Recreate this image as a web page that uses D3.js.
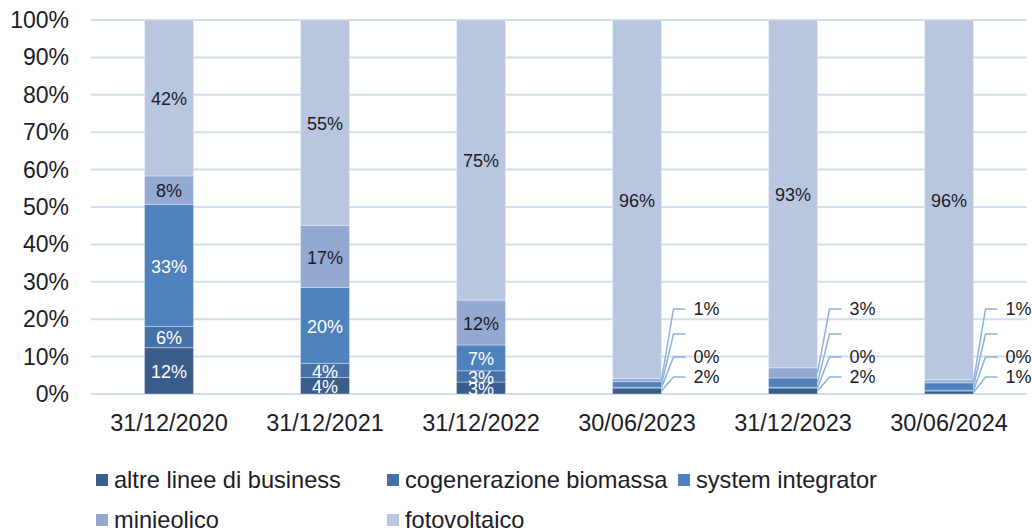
<!DOCTYPE html>
<html><head><meta charset="utf-8">
<script src="https://cdn.jsdelivr.net/npm/d3@7"></script>
<style>body{margin:0;background:#fff;} svg{display:block;font-family:"Liberation Sans",Arial,sans-serif;}</style>
</head><body><svg id="c" width="1032" height="531"></svg>
<script>
const categories = ["31/12/2020","31/12/2021","31/12/2022","30/06/2023","31/12/2023","30/06/2024"];
const seriesNames = ["altre linee di business","cogenerazione biomassa","system integrator","minieolico","fotovoltaico"];
const altre = [12.4, 4.4, 3.2, 1.6, 1.6, 0.8];
const cogenerazione = [5.7, 3.8, 3.0, 0.2, 0.2, 0.2];
const systemIntegrator = [32.6, 20.3, 6.9, 1.5, 2.5, 2.0];
const minieolico = [7.6, 16.6, 12.0, 0.8, 2.7, 0.8];
const fotovoltaico = [41.7, 54.9, 74.9, 95.9, 93.0, 96.2];
const yTicks = [0,10,20,30,40,50,60,70,80,90,100];
const calloutCategories = ["30/06/2023","31/12/2023","30/06/2024"];
const blankCalloutSeries = ["system integrator"];

(function(){
const colors = ["#3a5d8c","#4571a6","#4f81bd","#94a9d1","#b9c6e0"];
const textDark = ["#fff","#fff","#fff","#1c1c28","#1c1c28"];
const seriesArrays = [altre, cogenerazione, systemIntegrator, minieolico, fotovoltaico];
const rows = categories.map((c,i)=>{const r={cat:c}; seriesNames.forEach((s,j)=>r[s]=seriesArrays[j][i]); return r;});

const svg = d3.select("#c");
const mLeft = 91, mRight = 1027, mTop = 20, mBottom = 394;
const x = d3.scaleBand().domain(categories).range([mLeft,mRight]).paddingInner(0.686).paddingOuter(0.343);
const y = d3.scaleLinear().domain([0,100]).range([mBottom, mTop]);
const fmt = v => Math.round(v) + "%";

svg.append("g").selectAll("line").data(yTicks).join("line")
  .attr("x1", mLeft).attr("x2", mRight)
  .attr("y1", d=>y(d)).attr("y2", d=>y(d))
  .attr("stroke", "#cddff1").attr("stroke-width", 2);

svg.append("g").selectAll("text").data(yTicks).join("text")
  .attr("x", 69).attr("y", d=>y(d)).attr("dy","0.35em")
  .attr("text-anchor","end").attr("font-size",23).attr("fill","#1c1c28")
  .text(d=>d+"%");

svg.append("g").selectAll("text").data(categories).join("text")
  .attr("x", d=>x(d)+x.bandwidth()/2).attr("y", 431)
  .attr("text-anchor","middle").attr("font-size",23.5).attr("fill","#1c1c28")
  .text(d=>d);

const stack = d3.stack().keys(seriesNames)(rows);

const g = svg.append("g");
stack.forEach((layer, si) => {
  g.append("g").selectAll("rect").data(layer).join("rect")
    .attr("x", d=>x(d.data.cat)).attr("width", x.bandwidth())
    .attr("y", d=>y(d[1])).attr("height", d=>y(d[0])-y(d[1]))
    .attr("fill", colors[si])
    .attr("stroke","rgba(255,255,255,0.35)").attr("stroke-width",1);
});

stack.forEach((layer, si) => {
  layer.forEach(d => {
    const cat = d.data.cat;
    if (calloutCategories.includes(cat) && si < 4) return;
    svg.append("text")
      .attr("x", x(cat)+x.bandwidth()/2).attr("y", (y(d[0])+y(d[1]))/2 + 1).attr("dy","0.35em")
      .attr("text-anchor","middle").attr("font-size",18).attr("fill", textDark[si])
      .text(fmt(d[1]-d[0]));
  });
});

const calloutY = [377, 357, 334, 309];
calloutCategories.forEach(cat => {
  const xr = x(cat)+x.bandwidth();
  for (let si=0; si<4; si++) {
    const d = stack[si].find(e=>e.data.cat===cat);
    const ym = (y(d[0])+y(d[1]))/2;
    const ly = calloutY[si];
    const ex = xr + 12;
    svg.append("polyline")
      .attr("points", `${xr},${ym} ${ex},${ly} ${ex+12},${ly}`)
      .attr("fill","none").attr("stroke","#8db3dd").attr("stroke-width",1.5);
    if (!blankCalloutSeries.includes(seriesNames[si])) {
      svg.append("text").attr("x", ex+20).attr("y", ly).attr("dy","0.35em")
        .attr("font-size",18).attr("fill","#1c1c28").text(fmt(d[1]-d[0]));
    }
  }
});

const legendPos = [[96,480],[387,480],[678,480],[96,520],[387,520]];
seriesNames.forEach((s,i)=>{
  const [lx,ly] = legendPos[i];
  svg.append("rect").attr("x",lx).attr("y",ly-6).attr("width",12).attr("height",12).attr("fill",colors[i]);
  svg.append("text").attr("x",lx+18).attr("y",ly).attr("dy","0.35em")
    .attr("font-size",23.6).attr("fill","#1c1c28").text(s);
});
})();
</script></body></html>
